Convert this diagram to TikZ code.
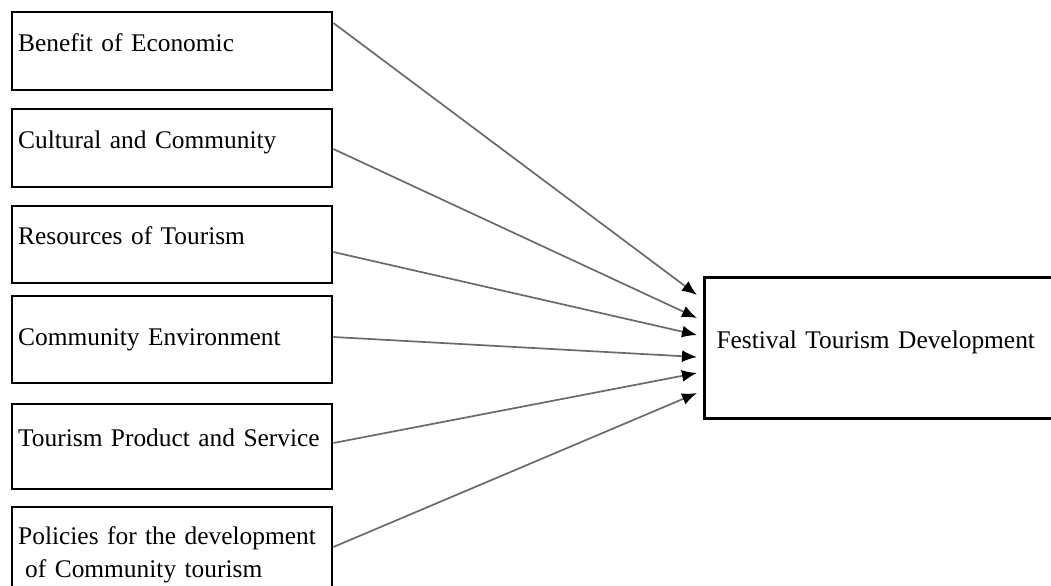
\documentclass[tikz,border=0pt]{standalone}
\usepackage{fontspec}
\setmainfont{Liberation Serif}
\usepackage{xcolor}
\usetikzlibrary{arrows.meta}

\definecolor{linegray}{HTML}{6A6A6A}

\begin{document}
\begin{tikzpicture}[x=0.5pt, y=-0.5pt, font=\fontsize{12.7}{16.5}\selectfont,
	factor/.style={draw, line width=1.2pt, anchor=north west, align=left,
		inner xsep=3pt, inner ysep=0pt, text width=154pt},
	oneline/.style={text height=0.7em, text depth=0.7em},
	conn/.style={-{Latex[length=7.5pt, width=6pt, black]}, linegray, line width=0.85pt}]

			\path [use as bounding box, clip] (0,0) rectangle (1051,585);

			\node [factor, oneline, minimum height=39pt] (b1) at (11,11) {Benefit of Economic};
			\node [factor, oneline, minimum height=39pt] (b2) at (11,108) {Cultural and Community};
			\node [factor, oneline, minimum height=38.5pt] (b3) at (11,205) {Resources of Tourism};
			\node [factor, oneline, text height=1.24em, minimum height=43.5pt] (b4) at (11,295) {Community Environment};
			\node [factor, oneline, minimum height=42.5pt] (b5) at (11,403) {\mbox{Tourism Product and Service}};
			\node [factor, minimum height=48pt] (b6) at (11,506) {Policies for the development\\\hspace*{3.5pt}of Community tourism};

			\node [factor, oneline, line width=1.5pt, inner xsep=6pt, text width=188pt, minimum height=70.5pt] (fes) at (703,276) {Festival Tourism Development};

			\foreach \b/\s/\e in {b1/6/9.5, b2/20.5/21, b3/23.5/29.5, b4/21/40.5, b5/20/48.5, b6/20.5/58.5} {
				\draw [conn] ([yshift=-\s pt]\b.north east) -- ([xshift=-3pt, yshift=-\e pt]fes.north west);
			}
		\end{tikzpicture}
\end{document}
